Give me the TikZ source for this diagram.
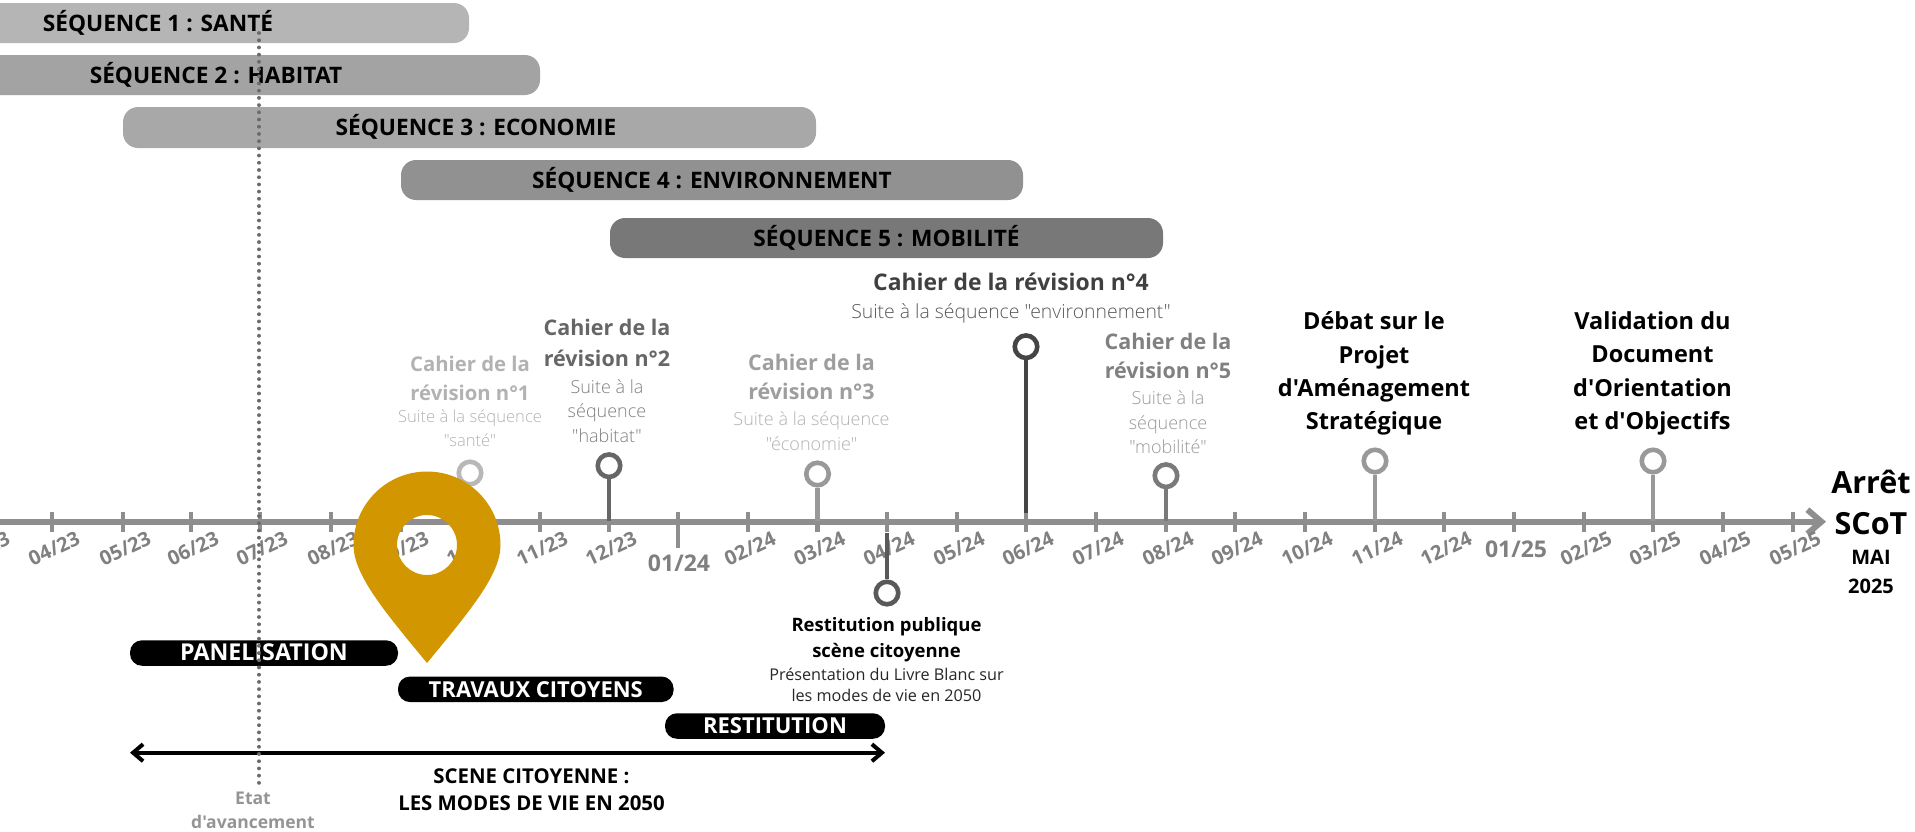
\documentclass[tikz,border=0pt]{standalone}
\usepackage{fontspec}
\setmainfont{Open Sans}
\newfontfamily\osf{Open Sans}
\newfontfamily\lightf{Open Sans Light}
\usetikzlibrary{arrows.meta}
\definecolor{pingold}{HTML}{D19600}
\definecolor{axisgray}{HTML}{8E8E8E}
\newcommand{\fs}[2]{\osf\fontsize{#1}{#2}\selectfont}
\tikzset{
  x=1pt,y=-1pt,
  seqbar/.style={rectangle,rounded corners=15pt,inner sep=0pt,minimum height=40pt,text=black,font=\fs{22.7}{27}\bfseries,text height=16pt,text depth=0pt},
  blackbar/.style={rectangle,rounded corners=12pt,fill=black,inner sep=0pt,minimum height=25.5pt,text=white,font=\fs{22}{26}\bfseries,text height=15.5pt,text depth=0pt},
  ticklabel/.style={rotate=25,inner sep=0pt,text=black!50,font=\fs{20}{22}\bfseries},
  bigtick/.style={inner sep=0pt,text=black!50,font=\fs{23}{26}\bfseries},
  tickmark/.style={draw=axisgray,line width=4.6pt},
  mark ring/.style={circle,draw=#1,line width=4.6pt,inner sep=0pt,minimum size=22.5pt},
  stem/.style={draw=#1,line width=4.4pt},
  title/.style={align=center,inner sep=0pt,text=#1,font=\fs{21.5}{29}\bfseries},
  sub/.style={align=center,inner sep=0pt,text=#1,font=\lightf\fontsize{18}{24.5}\selectfont},
  blacktitle/.style={align=center,inner sep=0pt,text=black,font=\fs{23.5}{33.3}\bfseries},
}
\begin{document}
\begin{tikzpicture}
\clip (0,0) rectangle (1915,831);
% sequence bars
\node[seqbar,fill=black!29,minimum width=622pt] (s1) at (158,23) {SÉQUENCE 1 : SANTÉ};
\node[seqbar,fill=black!36,minimum width=648pt] (s2) at (216,75) {SÉQUENCE 2 : HABITAT};
\node[seqbar,fill=black!34,minimum width=693pt,minimum height=41pt] (s3) at (469.5,127.5) {\hspace*{13pt}SÉQUENCE 3 : ECONOMIE};
\node[seqbar,fill=black!43,minimum width=622pt] (s4) at (712,180) {SÉQUENCE 4 : ENVIRONNEMENT};
\node[seqbar,fill=black!53,minimum width=553pt] (s5) at (886.5,238) {SÉQUENCE 5 : MOBILITÉ};
% axis
\coordinate (axstart) at (-5,521.7);
\coordinate (axend) at (1826,521.7);
\draw[draw=axisgray,line width=6pt,-{Straight Barb[length=14pt,width=24pt]}] (axstart) -- (axend);
\foreach \x/\l in {-18/03,52/04,123/05,191/06,260/07,331/08,401/09,470/10,540/11,609/12}{
  \draw[tickmark] (\x,512) -- (\x,532);
  \node[ticklabel] (lab\l) at (\x+2,548.5) {\l/23};
}
\foreach \x/\l in {748/02,817.5/03,887/04,957/05,1026/06,1096/07,1166/08,1235/09,1305/10,1375/11,1444/12}{
  \draw[tickmark] (\x,512) -- (\x,532);
  \node[ticklabel] (lab\l b) at (\x+2,548.5) {\l/24};
}
\foreach \x/\l in {1584/02,1653/03,1723/04,1793/05}{
  \draw[tickmark] (\x,512) -- (\x,532);
  \node[ticklabel] (lab\l c) at (\x+2,548.5) {\l/25};
}
\draw[tickmark] (678,512) -- (678,548);
\node[bigtick] (y24) at (679,563) {01/24};
\draw[tickmark] (1514,512) -- (1514,532);
\node[bigtick] (y25) at (1516,549) {01/25};
% milestones
\node[mark ring=black!28] (m1) at (470,473) {};
\coordinate (a1) at (470,521);
\draw[stem=black!28] (m1) -- (a1);
\node[mark ring=black!60] (m2) at (609,465.7) {};
\coordinate (a2) at (609,521);
\draw[stem=black!60] (m2) -- (a2);
\node[mark ring=black!40] (m3) at (817.5,474) {};
\coordinate (a3) at (817.5,521);
\draw[stem=black!40] (m3) -- (a3);
\node[mark ring=black!73] (m4) at (1026,346.7) {};
\coordinate (a4) at (1026,513);
\draw[stem=black!73] (m4) -- (a4);
\node[mark ring=black!52] (m5) at (1166,475.7) {};
\coordinate (a5) at (1166,521);
\draw[stem=black!52] (m5) -- (a5);
\node[mark ring=black!65] (mr) at (887,593) {};
\coordinate (ar) at (887,533);
\draw[stem=black!65] (mr) -- (ar);
\node[mark ring=black!40] (md) at (1375,461) {};
\coordinate (ad) at (1375,521);
\draw[stem=black!40] (md) -- (ad);
\node[mark ring=black!40] (mv) at (1653,461) {};
\coordinate (av) at (1653,521);
\draw[stem=black!40] (mv) -- (av);
% texts
\node[title=black!30,font=\fs{20.3}{29}\bfseries] (t1) at (470,378) {Cahier de la\\révision n°1};
\node[sub=black!30,font=\lightf\fontsize{16.6}{24.5}\selectfont] (u1) at (470,428) {Suite à la séquence\\"santé"};
\node[title=black!60,font=\fs{21.5}{31}\bfseries] (t2) at (607,343) {Cahier de la\\révision n°2};
\node[sub=black!50] (u2) at (607,411) {Suite à la\\séquence\\"habitat"};
\node[title=black!38] (t3) at (811.5,376.5) {Cahier de la\\révision n°3};
\node[sub=black!30] (u3) at (811.5,431) {Suite à la séquence\\"économie"};
\node[title=black!75,font=\fs{22.9}{29}\bfseries] (t4) at (1011,282) {Cahier de la révision n°4};
\node[sub=black!65,font=\lightf\fontsize{19.4}{24}\selectfont] (u4) at (1011,313.5) {Suite à la séquence "environnement"};
\node[title=black!50] (t5) at (1168,356) {Cahier de la\\révision n°5};
\node[sub=black!40] (u5) at (1168,422.5) {Suite à la\\séquence\\"mobilité"};
\node[blacktitle] (td) at (1374,373.5) {Débat sur le\\Projet\\d'Aménagement\\Stratégique};
\node[blacktitle] (tv) at (1652.5,373.5) {Validation du\\Document\\d'Orientation\\et d'Objectifs};
\node[align=center,inner sep=0pt,font=\fs{30.5}{41}\bfseries] (ta) at (1871,502) {Arrêt\\SCoT};
\node[align=center,inner sep=0pt,font=\fs{20}{29.5}\bfseries] (tm) at (1871,572) {MAI\\2025};
\node[align=center,inner sep=0pt,font=\fs{18.5}{26}\bfseries] (tr) at (886.5,639.5) {Restitution publique\\scène citoyenne};
\node[align=center,inner sep=0pt,text=black!85,font=\fs{16.2}{21}] (ur) at (886.5,685) {Présentation du Livre Blanc sur\\les modes de vie en 2050};
% black bars
\node[blackbar,minimum width=268pt,font=\fs{23.2}{26}\bfseries] (pan) at (264,653) {PANELISATION};
\node[blackbar,minimum width=275.6pt] (tra) at (535.8,689.3) {TRAVAUX CITOYENS};
\node[blackbar,minimum width=220pt] (res) at (775,726) {RESTITUTION};
% double arrow
\coordinate (dl) at (130,752.7);
\coordinate (dr) at (885,752.7);
\draw[line width=4pt,black,{Straight Barb[length=10pt,width=17pt]}-{Straight Barb[length=10pt,width=17pt]}] (dl) -- (dr);
\node[align=center,inner sep=0pt,font=\fs{20.4}{27.5}\bfseries] (sc) at (531.5,789.5) {SCENE CITOYENNE :\\LES MODES DE VIE EN 2050};
% status line
\node[align=center,inner sep=0pt,text=black!42,font=\fs{17.5}{24}\bfseries] (et) at (253,810) {Etat\\d'avancement};
\coordinate (d1) at (259,33);
\coordinate (d2) at (259,785);
\draw[draw=black!58,line width=3.8pt,line cap=round,dash pattern=on 0.01pt off 7.2pt] (d1) -- (d2);
% pin
\fill[pingold,even odd rule] (427,663) .. controls (385,612) and (353.5,575) .. (353.5,545)
  .. controls (353.5,504.4) and (386.4,471.5) .. (427,471.5)
  .. controls (467.6,471.5) and (500.5,504.4) .. (500.5,545)
  .. controls (500.5,575) and (469,612) .. (427,663) -- cycle
  (427,545) circle[radius=30pt];
\end{tikzpicture}
\end{document}
